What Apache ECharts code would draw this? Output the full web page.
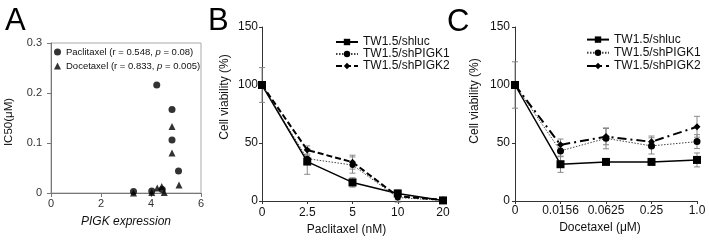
<!DOCTYPE html>
<html><head><meta charset="utf-8">
<script src="https://cdn.jsdelivr.net/npm/echarts@6/dist/echarts.min.js"></script>
<style>html,body{margin:0;padding:0;background:#fff}#c{width:709px;height:243px}</style>
</head><body><div id="c"></div><script>
// ---- Panel A: IC50 vs PIGK expression ----
const aPaclitaxel = [[3.3,0.003],[4.03,0.004],[4.23,0.216],[4.45,0.007],[4.84,0.167],[4.84,0.106],[5.1,0.044]];
const aDocetaxel = [[3.3,0.0],[4.03,0.001],[4.25,0.01],[4.43,0.013],[4.53,0.001],[4.84,0.133],[4.84,0.08],[5.12,0.016]];
// ---- Panel B: Paclitaxel ----
const bCats = ['0','2.5','5','10','20'];
const bShluc = [100, 34, 16, 6.5, 0.5];
const bShlucErr = [15, 11, 4, 3, 0];
const bPigk1 = [100, 36.5, 31, 3, 0.5];
const bPigk1Err = [0, 3, 7, 4, 0];
const bPigk2 = [100, 44, 33.5, 4, 1];
const bPigk2Err = [0, 3.5, 6, 3, 0];
// ---- Panel C: Docetaxel ----
const cCats = ['0','0.0156','0.0625','0.25','1.0'];
const cShluc = [100, 31.7, 33.7, 33.7, 35.4];
const cShlucErr = [20, 7, 2, 2, 6];
const cPigk1 = [100, 43.2, 54, 47.5, 51.2];
const cPigk1Err = [0, 5, 9, 7, 6];
const cPigk2 = [100, 48.4, 55.5, 51, 64];
const cPigk2Err = [0, 5, 7, 5, 9];
const seriesNames = ['TW1.5/shluc','TW1.5/shPIGK1','TW1.5/shPIGK2'];

const FONT = 'Arial, "Liberation Sans", sans-serif';
const chart = echarts.init(document.getElementById('c'));

function errSeries(xi, vals, errs, color) {
  return {
    type: 'custom', xAxisIndex: xi, yAxisIndex: xi, silent: true, z: 1,
    data: vals.map((v, i) => [i, v - errs[i], v + errs[i], errs[i]]).filter(d => d[3] > 0),
    renderItem(params, api) {
      const lo = api.coord([api.value(0), api.value(1)]);
      const hi = api.coord([api.value(0), api.value(2)]);
      const w = 3, st = { stroke: color, lineWidth: 1 };
      return { type: 'group', children: [
        { type: 'line', shape: { x1: lo[0], y1: lo[1], x2: hi[0], y2: hi[1] }, style: st },
        { type: 'line', shape: { x1: lo[0]-w, y1: lo[1], x2: lo[0]+w, y2: lo[1] }, style: st },
        { type: 'line', shape: { x1: hi[0]-w, y1: hi[1], x2: hi[0]+w, y2: hi[1] }, style: st }
      ]};
    }
  };
}

function lineSeries(xi, prefix, name, data, sym, size, ls) {
  return {
    type: 'line', name: prefix + name, xAxisIndex: xi, yAxisIndex: xi, data: data,
    symbol: sym, symbolSize: size, showSymbol: true, z: 3,
    itemStyle: { color: '#000' }, lineStyle: ls, animation: false
  };
}

const axisBase = {
  axisLine: { show: true, lineStyle: { color: '#333', width: 1 } },
  axisTick: { show: true, length: 3, lineStyle: { color: '#333' } },
  splitLine: { show: false },
  axisLabel: { color: '#111', fontFamily: FONT, fontSize: 12 },
  nameTextStyle: { color: '#111', fontFamily: FONT, fontSize: 12 }
};
function ax(extra) { return echarts.util.merge(echarts.util.clone(axisBase), extra, true); }

const option = {
  animation: false,
  backgroundColor: '#fff',
  textStyle: { fontFamily: FONT },
  grid: [
    { left: 51, top: 43, width: 150, height: 150, show: true, borderColor: '#aaa', borderWidth: 1, backgroundColor: 'transparent' },
    { left: 262, top: 27, width: 181, height: 174 },
    { left: 515, top: 27, width: 182, height: 174 }
  ],
  xAxis: [
    ax({ gridIndex: 0, type: 'value', min: 0, max: 6, interval: 2,
      axisLine: { lineStyle: { color: '#777' } }, axisTick: { length: 4, lineStyle: { color: '#777' } },
      axisLabel: { fontSize: 11, margin: 5, color: '#333' },
      name: 'PIGK expression', nameLocation: 'middle', nameGap: 23,
      nameTextStyle: { fontStyle: 'italic', fontSize: 12 } }),
    ax({ gridIndex: 1, type: 'category', data: bCats, boundaryGap: false,
      axisTick: { alignWithLabel: true }, axisLabel: { margin: 6, interval: 0 },
      name: 'Paclitaxel (nM)', nameLocation: 'middle', nameGap: 23,
      nameTextStyle: { padding: [0, 12, 0, 0] } }),
    ax({ gridIndex: 2, type: 'category', data: cCats, boundaryGap: false,
      axisLabel: { margin: 4, interval: 0 },
      name: 'Docetaxel (\u03bcM)', nameLocation: 'middle', nameGap: 20,
      nameTextStyle: { padding: [0, 12, 0, 0] } })
  ],
  yAxis: [
    ax({ gridIndex: 0, type: 'value', min: 0, max: 0.3, interval: 0.1,
      axisLine: { lineStyle: { color: '#777' } }, axisTick: { length: 4, lineStyle: { color: '#777' } },
      axisLabel: { fontSize: 11, margin: 9, color: '#333' },
      name: 'IC50(\u03bcM)', nameLocation: 'middle', nameGap: 36,
      nameTextStyle: { fontSize: 11.5, padding: [0, 8, 0, 0] } }),
    ax({ gridIndex: 1, type: 'value', min: 0, max: 150, interval: 50,
      axisLabel: { margin: 4 },
      name: 'Cell viability (%)', nameLocation: 'middle', nameGap: 31,
      nameTextStyle: { padding: [0, 0, 0, 34] } }),
    ax({ gridIndex: 2, type: 'value', min: 0, max: 150, interval: 50,
      axisLabel: { margin: 5 },
      name: 'Cell viability (%)', nameLocation: 'middle', nameGap: 34,
      nameTextStyle: { padding: [0, 0, 0, 26] } })
  ],
  legend: [
    { orient: 'vertical', left: 54, top: 45, itemGap: 0, itemWidth: 7, itemHeight: 7, padding: 0,
      data: [{ name: 'Paclitaxel', icon: 'circle' }, { name: 'Docetaxel', icon: 'triangle' }],
      formatter: n => n === 'Paclitaxel' ? 'Paclitaxel (r = 0.548, {i|p} = 0.08)' : 'Docetaxel (r = 0.833, {i|p} = 0.005)',
      textStyle: { fontSize: 9.5, lineHeight: 14, color: '#111', fontFamily: FONT,
        rich: { i: { fontStyle: 'italic', fontSize: 9.5, fontFamily: FONT } } },
      selectedMode: false },
    { orient: 'vertical', left: 335, top: 36, itemGap: 0, itemWidth: 22, itemHeight: 8, padding: 0,
      data: seriesNames.map(n => 'B:' + n), formatter: n => n.slice(2),
      textStyle: { fontSize: 12, lineHeight: 11.5, color: '#111', fontFamily: FONT }, selectedMode: false },
    { orient: 'vertical', left: 586, top: 33, itemGap: 0, itemWidth: 22, itemHeight: 8, padding: 0,
      data: seriesNames.map(n => 'C:' + n), formatter: n => n.slice(2),
      textStyle: { fontSize: 12, lineHeight: 13.2, color: '#111', fontFamily: FONT }, selectedMode: false }
  ],
  graphic: [
    { type: 'text', left: 5, top: 6, style: { text: 'A', font: '31px ' + FONT, fill: '#000' } },
    { type: 'text', left: 208, top: 6, style: { text: 'B', font: '31px ' + FONT, fill: '#000' } },
    { type: 'text', left: 447, top: 7, style: { text: 'C', font: '31px ' + FONT, fill: '#000' } }
  ],
  series: [
    { type: 'scatter', name: 'Paclitaxel', xAxisIndex: 0, yAxisIndex: 0, data: aPaclitaxel,
      symbol: 'circle', symbolSize: 7, itemStyle: { color: '#000' } },
    { type: 'scatter', name: 'Docetaxel', xAxisIndex: 0, yAxisIndex: 0, data: aDocetaxel,
      symbol: 'triangle', symbolSize: 7, itemStyle: { color: '#000' } },

    errSeries(1, bShluc, bShlucErr, '#888'),
    errSeries(1, bPigk1, bPigk1Err, '#888'),
    errSeries(1, bPigk2, bPigk2Err, '#888'),
    lineSeries(1, 'B:', seriesNames[0], bShluc, 'rect', 8, { color: '#000', width: 1.5, type: 'solid' }),
    lineSeries(1, 'B:', seriesNames[1], bPigk1, 'circle', 6, { color: '#444', width: 1, type: [1.5, 1.5] }),
    lineSeries(1, 'B:', seriesNames[2], bPigk2, 'diamond', 7, { color: '#000', width: 2, type: [6, 3] }),

    errSeries(2, cShluc, cShlucErr, '#888'),
    errSeries(2, cPigk1, cPigk1Err, '#888'),
    errSeries(2, cPigk2, cPigk2Err, '#888'),
    lineSeries(2, 'C:', seriesNames[0], cShluc, 'rect', 8, { color: '#000', width: 1.5, type: 'solid' }),
    lineSeries(2, 'C:', seriesNames[1], cPigk1, 'circle', 7, { color: '#444', width: 1, type: [1.5, 1.5] }),
    lineSeries(2, 'C:', seriesNames[2], cPigk2, 'diamond', 7, { color: '#000', width: 2, type: [9, 4, 2, 4] })
  ]
};
chart.setOption(option);
</script></body></html>
